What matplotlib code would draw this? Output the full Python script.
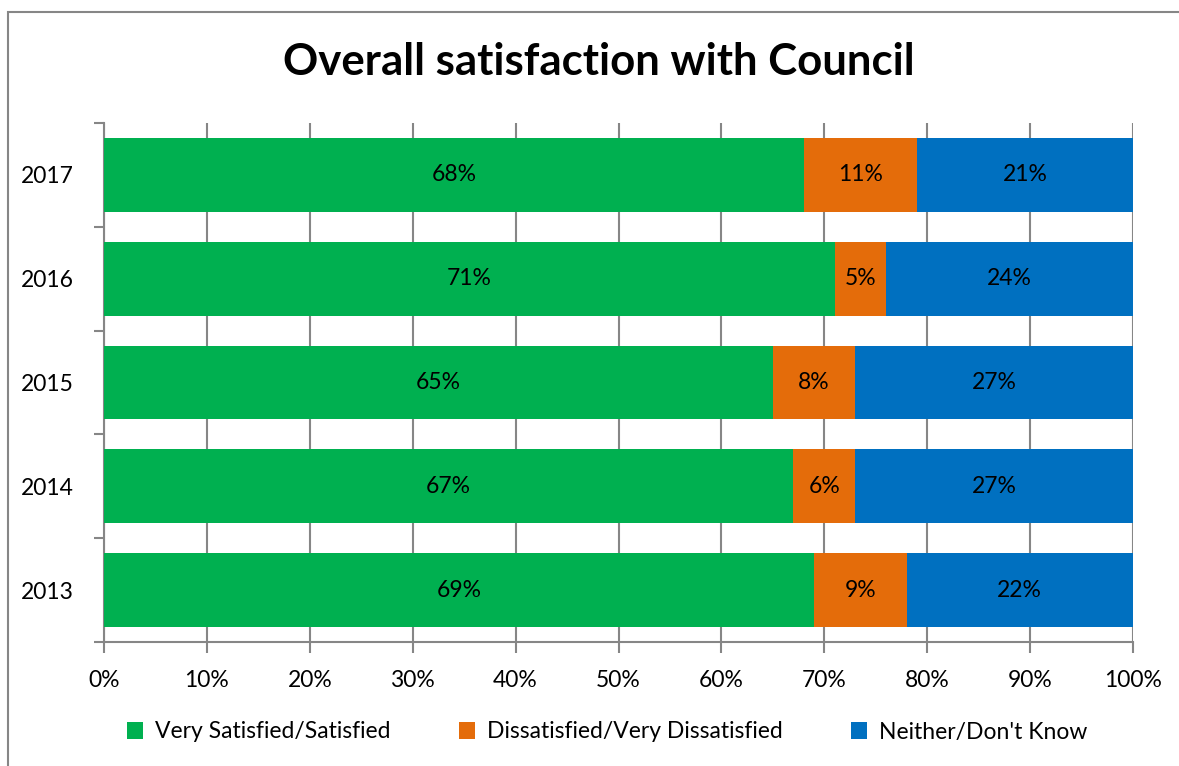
import matplotlib.pyplot as plt
from matplotlib.patches import Rectangle

years = ['2013', '2014', '2015', '2016', '2017']
satisfied = [69, 67, 65, 71, 68]
dissatisfied = [9, 6, 8, 5, 11]
neither = [22, 27, 27, 24, 21]
series_names = ['Very Satisfied/Satisfied', 'Dissatisfied/Very Dissatisfied', "Neither/Don't Know"]
colors = ['#00B050', '#E46C0A', '#0070C0']

plt.rcParams['font.family'] = ['Lato', 'DejaVu Sans']
fig = plt.figure(figsize=(11.79, 7.66), dpi=100)
ax = fig.add_axes([104 / 1179, 1 - 642 / 766, (1133 - 104) / 1179, (642 - 123) / 766])

# chart border (cut off at right and bottom)
fig.add_artist(Rectangle((8 / 1179, -0.05), 1.2, 1 - 12 / 766 + 0.05, transform=fig.transFigure,
                         fill=False, edgecolor='#868686', linewidth=1.5))

ypos = range(len(years))
left = [0] * len(years)
for vals, name, col in zip([satisfied, dissatisfied, neither], series_names, colors):
    bars = ax.barh(ypos, vals, left=left, height=0.71, color=col, label=name, zorder=3)
    for b, v in zip(bars, vals):
        ax.text(b.get_x() + b.get_width() / 2, b.get_y() + b.get_height() / 2, f'{v}%',
                ha='center', va='center', fontsize=16.5, color='black', zorder=4)
    left = [l + v for l, v in zip(left, vals)]

ax.set_xlim(0, 100)
ax.set_ylim(-0.5, len(years) - 0.5)
ax.set_xticks(range(0, 101, 10))
ax.set_xticklabels([f'{t}%' for t in range(0, 101, 10)], fontsize=16.5)
ax.set_yticks(list(ypos))
ax.set_yticklabels(years, fontsize=16.5)
ax.set_yticks([i - 0.5 for i in range(len(years) + 1)], minor=True)
ax.tick_params(axis='y', which='major', length=0, pad=22)
ax.tick_params(axis='y', which='minor', length=7, color='#868686', width=1.5)
ax.tick_params(axis='x', length=8, color='#868686', width=1.5, pad=12)
ax.grid(axis='x', color='#868686', linewidth=1.5, zorder=0)
for s in ['top', 'right']:
    ax.spines[s].set_visible(False)
for s in ['left', 'bottom']:
    ax.spines[s].set_color('#868686')
    ax.spines[s].set_linewidth(1.5)

fig.text(0.508, 1 - 62 / 766, 'Overall satisfaction with Council', ha='center', va='center',
         fontsize=31.5, fontweight='bold')

h, l = ax.get_legend_handles_labels()
fig.legend(h, l, loc='center', bbox_to_anchor=(0.515, 1 - 732 / 766), ncol=3, frameon=False,
           fontsize=16.5, handlelength=0.7, handleheight=0.7, columnspacing=3.0, handletextpad=0.5)

fig.savefig('out.png', dpi=100)
